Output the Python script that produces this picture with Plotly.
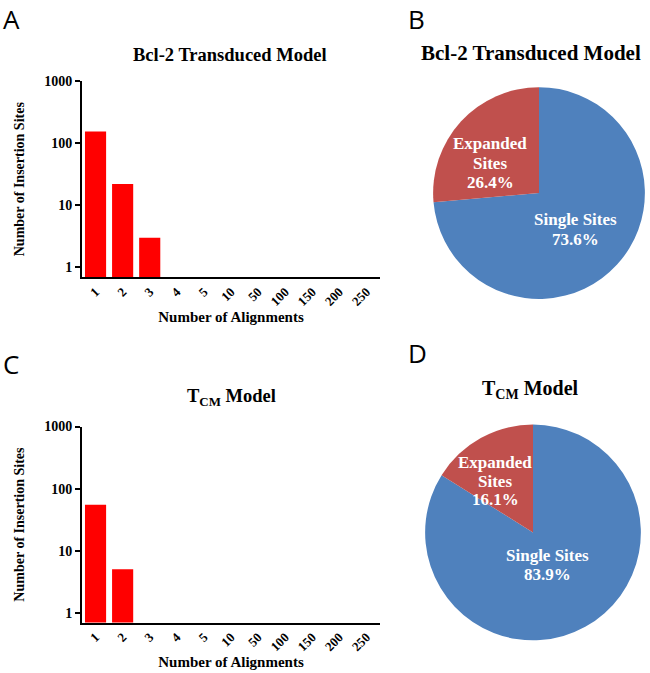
import plotly.graph_objects as go

# ---- data ----
alignments = ["1", "2", "3", "4", "5", "10", "50", "100", "150", "200", "250"]
bcl2_sites = [155, 22, 3, None, None, None, None, None, None, None, None]
tcm_sites = [55, 5, None, None, None, None, None, None, None, None, None]

pie_labels = ["Single Sites", "Expanded Sites"]
bcl2_pct = [73.6, 26.4]
tcm_pct = [83.9, 16.1]

ytick_vals = [1, 10, 100, 1000]
ytick_text = ["1", "10", "100", "1000"]

W, H = 650, 673
def px(x):
    return x / W
def py(y):
    return 1 - y / H

SERIF = "Liberation Serif"
SANS = "Open Sans"

fig = go.Figure()

fig.add_trace(go.Bar(x=alignments, y=bcl2_sites, marker_color="#FF0000",
                     marker_line_width=0, xaxis="x", yaxis="y", showlegend=False))
fig.add_trace(go.Bar(x=alignments, y=tcm_sites, marker_color="#FF0000",
                     marker_line_width=0, xaxis="x2", yaxis="y2", showlegend=False))

pie_colors = ["#4F81BD", "#C0504D"]
fig.add_trace(go.Pie(labels=pie_labels, values=bcl2_pct, sort=False,
                     direction="clockwise", rotation=0,
                     marker=dict(colors=pie_colors, line=dict(width=0)),
                     textinfo="none", hoverinfo="label+percent", showlegend=False,
                     domain=dict(x=[px(432), px(646)], y=[py(295), py(81)])))
fig.add_trace(go.Pie(labels=pie_labels, values=tcm_pct, sort=False,
                     direction="clockwise", rotation=0,
                     marker=dict(colors=pie_colors, line=dict(width=0)),
                     textinfo="none", hoverinfo="label+percent", showlegend=False,
                     domain=dict(x=[px(424), px(642)], y=[py(640), py(422)])))

def xaxis_cfg(anchor):
    return dict(domain=[px(82), px(380)], anchor=anchor, type="category",
                showline=True, linecolor="black", linewidth=2,
                ticks="", tickangle=-45, showgrid=False, zeroline=False,
                tickfont=dict(family=SERIF, size=13, color="black"),
                tickvals=alignments, ticktext=["<b>%s</b>" % a for a in alignments],
                title=dict(text="<b>Number of Alignments</b>",
                           font=dict(family=SERIF, size=15, color="black"),
                           standoff=2))

def yaxis_cfg(anchor, top, bottom):
    return dict(domain=[py(bottom), py(top)], anchor=anchor, type="log",
                range=[-0.16, 3], showline=True, linecolor="black", linewidth=2,
                ticks="outside", ticklen=5, tickwidth=1.5, tickcolor="black",
                tickvals=ytick_vals, ticktext=["<b>%s</b>" % t for t in ytick_text],
                showgrid=False, zeroline=False,
                tickfont=dict(family=SERIF, size=14, color="black"),
                title=dict(text="<b>Number of Insertion Sites</b>",
                           font=dict(family=SERIF, size=14, color="black"),
                           standoff=16))

fig.update_layout(
    width=W, height=H, margin=dict(l=0, r=0, t=0, b=0),
    paper_bgcolor="white", plot_bgcolor="white", bargap=0.22,
    xaxis=xaxis_cfg("y"), yaxis=yaxis_cfg("x", 75, 273),
    xaxis2=xaxis_cfg("y2"), yaxis2=yaxis_cfg("x2", 424, 622),
)

annots = []
def ann(text, x, y, size, family=SERIF, color="black"):
    annots.append(dict(text=text, x=px(x), y=py(y), xref="paper", yref="paper",
                       showarrow=False, xanchor="center", yanchor="middle",
                       font=dict(family=family, size=size, color=color)))

# panel letters
ann("A", 11, 12, 26, SANS)
ann("B", 416, 12, 26, SANS)
ann("C", 11, 361, 26, SANS)
ann("D", 417, 350, 26, SANS)

# titles
ann("<b>Bcl-2 Transduced Model</b>", 230, 48, 18.5)
ann("<b>Bcl-2 Transduced Model</b>", 531, 46, 21)
ann("<b>T<sub>CM</sub> Model</b>", 231, 395, 18.5)
ann("<b>T<sub>CM</sub> Model</b>", 530, 387, 20)

# pie labels
ann("<b>Expanded</b>", 490, 138, 17, color="white")
ann("<b>Sites</b>", 490, 158, 17, color="white")
ann("<b>%.1f%%</b>" % bcl2_pct[1], 490, 177, 17, color="white")
ann("<b>Single Sites</b>", 575, 215, 17, color="white")
ann("<b>%.1f%%</b>" % bcl2_pct[0], 575, 235, 17, color="white")

ann("<b>Expanded</b>", 495, 460, 17, color="white")
ann("<b>Sites</b>", 495, 479, 17, color="white")
ann("<b>%.1f%%</b>" % tcm_pct[1], 495, 498, 17, color="white")
ann("<b>Single Sites</b>", 547, 554, 17, color="white")
ann("<b>%.1f%%</b>" % tcm_pct[0], 547, 573, 17, color="white")

fig.update_layout(annotations=annots)
fig.write_html("out.html", config={"displayModeBar": False},
               post_script="document.body.style.margin='0';document.body.style.padding='0';")
